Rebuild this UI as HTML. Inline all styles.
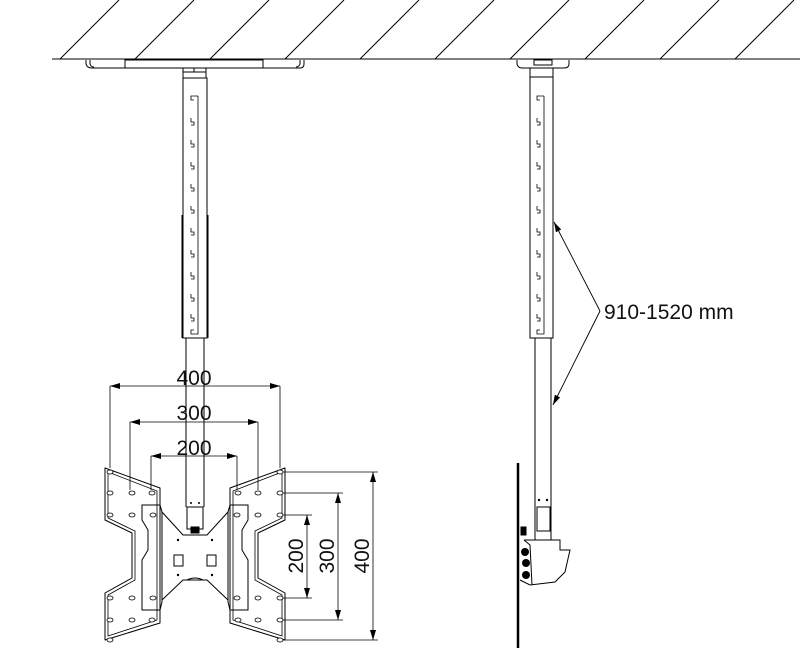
<!DOCTYPE html>
<html><head><meta charset="utf-8"><style>html,body{margin:0;padding:0;background:#fff}svg{display:block}</style></head>
<body>
<svg width="800" height="650" viewBox="0 0 800 650" xmlns="http://www.w3.org/2000/svg" font-family="Liberation Sans, sans-serif">
<defs>
<marker id="a" viewBox="0 0 10 6" refX="10" refY="3" markerWidth="10" markerHeight="6" orient="auto-start-reverse" markerUnits="userSpaceOnUse"><path d="M0,0 L10,3 L0,6 z" fill="#000"/></marker>
</defs>
<g stroke="#000" stroke-width="1" fill="none">
<line x1="52" y1="59" x2="800" y2="59"/>
<path d="M60,59 L119,0 M135,59 L194,0 M210,59 L269,0 M285,59 L344,0 M360,59 L419,0 M435,59 L494,0 M510,59 L569,0 M585,59 L644,0 M660,59 L719,0 M735,59 L794,0"/>
<path d="M86,60 L86,64 Q87,68 92,68 L300,68 Q304,68 304,64 L304,60"/>
<path d="M90,60 L90,64 Q91,67 94,67"/>
<path d="M300,60 L300,64 Q299,67 296,67"/>
<rect x="125" y="60" width="138" height="8"/>
<rect x="183" y="68" width="23" height="10"/>
<line x1="183" y1="72" x2="206" y2="72"/>
<line x1="194" y1="68" x2="194" y2="72"/>
<rect x="183" y="78" width="24" height="260"/>
<line x1="182" y1="215" x2="182" y2="338"/>
<line x1="208" y1="215" x2="208" y2="338"/>
<line x1="186" y1="338" x2="186" y2="507"/>
<line x1="204" y1="338" x2="204" y2="507"/>
<path id="slot" stroke-width="0.8" d="M198,96 L198,334 L191,334 L191,330 L194,330 M198,96 L191,96 L191,100 L194,100 M191,118 L191,122 L194,122 L194,125 L191,125 M191,140 L191,144 L194,144 L194,147 L191,147 M191,162 L191,166 L194,166 L194,169 L191,169 M191,184 L191,188 L194,188 L194,191 L191,191 M191,206 L191,210 L194,210 L194,213 L191,213 M191,228 L191,232 L194,232 L194,235 L191,235 M191,250 L191,254 L194,254 L194,257 L191,257 M191,272 L191,276 L194,276 L194,279 L191,279 M191,294 L191,298 L194,298 L194,301 L191,301 M191,314 L191,318 L194,318 L194,321 L191,321"/>
<path d="M105,468 L160,488 L160,623 L105,640 L105,593 L132,578 L132,533 L105,520 Z" stroke-linejoin="round"/>
<path d="M108,472 L157,491 L157,620 L108,636 L108,595 L135,580 L135,531 L108,518 Z" stroke-width="0.8"/>
<path d="M285,468 L230,488 L230,623 L285,640 L285,593 L258,578 L258,533 L285,520 Z" stroke-linejoin="round"/>
<path d="M282,472 L233,491 L233,620 L282,636 L282,595 L255,580 L255,531 L282,518 Z" stroke-width="0.8"/>
<path d="M142,505 L160,505 L162,512 L162,602 L160,610 L142,610 L142,560 L148,550 L148,530 L142,520 Z"/>
<path d="M248,505 L230,505 L228,512 L228,602 L230,610 L248,610 L248,560 L242,550 L242,530 L248,520 Z"/>
<path d="M162,512 L183,535 L207,535 L228,512 M162,600 L183,580 L207,580 L228,600"/>
<path d="M187,580 Q195,576 203,580"/>
<rect x="187" y="507" width="16" height="22"/>
<rect x="191" y="527" width="8" height="6" fill="#000"/>
<rect x="174" y="555" width="9" height="11"/>
<rect x="207" y="555" width="9" height="11"/>
</g>
<g fill="#fff" stroke="#000" stroke-width="0.8">
<ellipse cx="110" cy="472" rx="3" ry="2"/><ellipse cx="110" cy="493" rx="3" ry="2"/><ellipse cx="132" cy="493" rx="3" ry="2"/><ellipse cx="152" cy="493" rx="3" ry="2"/>
<ellipse cx="110" cy="515" rx="3" ry="2"/><ellipse cx="132" cy="515" rx="3" ry="2"/><ellipse cx="153" cy="515" rx="3" ry="2"/>
<ellipse cx="110" cy="598" rx="3" ry="2"/><ellipse cx="132" cy="598" rx="3" ry="2"/><ellipse cx="153" cy="598" rx="3" ry="2"/>
<ellipse cx="110" cy="620" rx="3" ry="2"/><ellipse cx="132" cy="620" rx="3" ry="2"/><ellipse cx="152" cy="620" rx="3" ry="2"/><ellipse cx="110" cy="640" rx="3" ry="2"/>
<ellipse cx="280" cy="472" rx="3" ry="2"/><ellipse cx="280" cy="493" rx="3" ry="2"/><ellipse cx="258" cy="493" rx="3" ry="2"/><ellipse cx="238" cy="493" rx="3" ry="2"/>
<ellipse cx="280" cy="515" rx="3" ry="2"/><ellipse cx="258" cy="515" rx="3" ry="2"/><ellipse cx="237" cy="515" rx="3" ry="2"/>
<ellipse cx="280" cy="598" rx="3" ry="2"/><ellipse cx="258" cy="598" rx="3" ry="2"/><ellipse cx="237" cy="598" rx="3" ry="2"/>
<ellipse cx="280" cy="620" rx="3" ry="2"/><ellipse cx="258" cy="620" rx="3" ry="2"/><ellipse cx="238" cy="620" rx="3" ry="2"/><ellipse cx="280" cy="640" rx="3" ry="2"/>
</g>
<g fill="#000">
<circle cx="178" cy="540" r="1.2"/><circle cx="212" cy="540" r="1.2"/><circle cx="178" cy="575" r="1.2"/><circle cx="212" cy="575" r="1.2"/>
<circle cx="191" cy="503" r="1"/><circle cx="199" cy="503" r="1"/>
</g>
<g stroke="#000" stroke-width="0.8" fill="none">
<line x1="110" y1="386" x2="110" y2="468"/><line x1="280" y1="386" x2="280" y2="468"/>
<line x1="130" y1="422" x2="130" y2="490"/><line x1="258" y1="422" x2="258" y2="490"/>
<line x1="151" y1="456" x2="151" y2="490"/><line x1="237" y1="456" x2="237" y2="490"/>
<line x1="110" y1="386" x2="280" y2="386" marker-start="url(#a)" marker-end="url(#a)"/>
<line x1="130" y1="422" x2="258" y2="422" marker-start="url(#a)" marker-end="url(#a)"/>
<line x1="151" y1="456" x2="237" y2="456" marker-start="url(#a)" marker-end="url(#a)"/>
<line x1="283" y1="472" x2="378" y2="472"/><line x1="283" y1="640" x2="378" y2="640"/>
<line x1="283" y1="493" x2="343" y2="493"/><line x1="283" y1="620" x2="343" y2="620"/>
<line x1="283" y1="515" x2="312" y2="515"/><line x1="283" y1="598" x2="312" y2="598"/>
<line x1="373" y1="472" x2="373" y2="640" marker-start="url(#a)" marker-end="url(#a)"/>
<line x1="338" y1="493" x2="338" y2="620" marker-start="url(#a)" marker-end="url(#a)"/>
<line x1="307" y1="515" x2="307" y2="598" marker-start="url(#a)" marker-end="url(#a)"/>
</g>
<g font-size="21" fill="#111" text-anchor="middle">
<text x="194" y="385">400</text>
<text x="194" y="420">300</text>
<text x="194" y="455">200</text>
<text transform="translate(303,556) rotate(-90)">200</text>
<text transform="translate(334,556) rotate(-90)">300</text>
<text transform="translate(369,556) rotate(-90)">400</text>
</g>
<g stroke="#000" stroke-width="1" fill="none">
<path d="M517,60 L517,64 Q518,68 522,68 L564,68 Q569,68 569,64 L569,60"/>
<rect x="534" y="60" width="18" height="5"/>
<rect x="530" y="68" width="23" height="9"/>
<rect x="530" y="77" width="23" height="261"/>
<line x1="535" y1="338" x2="535" y2="540"/>
<line x1="551" y1="338" x2="551" y2="540"/>
<use href="#slot" transform="translate(346,0)"/>
<rect x="537" y="507" width="13" height="24"/>
<path d="M524,540 L560,540 L560,550 L570,550 L565,572 L555,582 L530,585 L520,580"/>
<path d="M524,540 L530,545 L532,585"/>
<line x1="518" y1="463" x2="518" y2="648" stroke-width="2.5"/>
<rect x="521" y="527" width="5" height="8" fill="#000"/>
</g>
<g fill="#000"><circle cx="525" cy="552" r="4"/><circle cx="526" cy="563" r="4"/><circle cx="526" cy="575" r="4"/><circle cx="539" cy="500" r="1.2"/><circle cx="547" cy="500" r="1.2"/></g>
<g stroke="#000" stroke-width="0.9" fill="none">
<line x1="600" y1="311" x2="554" y2="222" marker-end="url(#a)"/>
<line x1="600" y1="311" x2="553" y2="405" marker-end="url(#a)"/>
</g>
<text x="604" y="319" font-size="21" fill="#111">910-1520 mm</text>
</svg>
</body></html>
